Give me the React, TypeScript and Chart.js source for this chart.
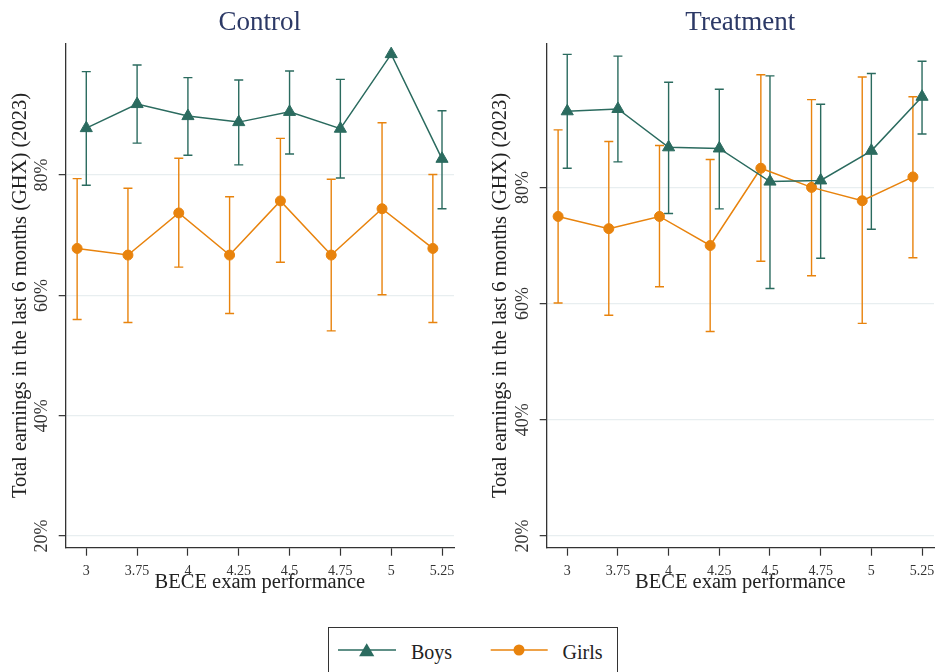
import React, { useEffect, useRef } from "react";
import { Chart, registerables } from "chart.js";

Chart.register(...registerables);

// ---------- data ----------
const categories = ["3", "3.75", "4", "4.25", "4.5", "4.75", "5", "5.25"];
const yTickValues = [20, 40, 60, 80];

const controlBoys = [87.8, 91.8, 89.8, 88.8, 90.5, 87.7, 100.1, 82.7];
const controlBoysLow = [78.3, 85.3, 83.3, 81.7, 83.5, 79.5, 100.1, 74.4];
const controlBoysHigh = [97.2, 98.3, 96.2, 95.8, 97.3, 95.9, 100.1, 90.7];
const controlGirls = [67.8, 66.7, 73.7, 66.7, 75.7, 66.7, 74.4, 67.8];
const controlGirlsLow = [56.0, 55.5, 64.7, 57.0, 65.5, 54.1, 60.1, 55.5];
const controlGirlsHigh = [79.4, 77.8, 82.8, 76.4, 86.1, 79.3, 88.7, 80.1];

const treatBoys = [93.1, 93.5, 86.9, 86.7, 81.0, 81.2, 86.3, 95.6];
const treatBoysLow = [83.3, 84.4, 75.5, 76.3, 62.6, 67.8, 72.8, 89.2];
const treatBoysHigh = [102.9, 102.6, 98.1, 96.9, 99.2, 94.3, 99.6, 101.7];
const treatGirls = [75.0, 72.9, 75.0, 70.0, 83.3, 80.0, 77.7, 81.8];
const treatGirlsLow = [60.1, 58.0, 62.9, 55.2, 67.3, 64.8, 56.6, 67.9];
const treatGirlsHigh = [89.9, 87.9, 87.2, 84.8, 99.4, 95.1, 99.0, 95.6];

// ---------- style ----------
const FONT = "'Liberation Serif', 'DejaVu Serif', serif";
const BOYS_COLOR = "#2b6b5f";
const GIRLS_COLOR = "#e8830d";
const TITLE_COLOR = "#2c3966";
const AXIS_COLOR = "#333333";
const GRID_COLOR = "#e8eef0";
const GIRLS_OFFSET = -0.18;
const Y_TITLE = "Total earnings in the last 6 months (GHX) (2023)";
const X_TITLE = "BECE exam performance";

const errorBarPlugin = {
  id: "errorBars",
  beforeDatasetsDraw(chart: any) {
    const { ctx } = chart;
    const x = chart.scales.x;
    const y = chart.scales.y;
    chart.data.datasets.forEach((ds: any) => {
      if (!ds.errLow) return;
      ctx.save();
      ctx.strokeStyle = ds.borderColor;
      ctx.lineWidth = 1.4;
      ds.data.forEach((p: any, i: number) => {
        const px = x.getPixelForValue(p.x);
        const lo = y.getPixelForValue(ds.errLow[i]);
        const hi = y.getPixelForValue(ds.errHigh[i]);
        if (Math.abs(lo - hi) < 0.5) return;
        ctx.beginPath();
        ctx.moveTo(px, lo);
        ctx.lineTo(px, hi);
        ctx.moveTo(px - 4.5, lo);
        ctx.lineTo(px + 4.5, lo);
        ctx.moveTo(px - 4.5, hi);
        ctx.lineTo(px + 4.5, hi);
        ctx.stroke();
      });
      ctx.restore();
    });
  },
};

const panelTextPlugin = {
  id: "panelText",
  afterDraw(chart: any, _args: any, opts: any) {
    const { ctx, chartArea } = chart;
    const y = chart.scales.y;
    ctx.save();
    // panel title
    ctx.font = `27px ${FONT}`;
    ctx.fillStyle = TITLE_COLOR;
    ctx.textAlign = "center";
    ctx.textBaseline = "middle";
    ctx.fillText(opts.title, (chartArea.left + chartArea.right) / 2, 22.5);
    // rotated y tick labels
    ctx.font = `18px ${FONT}`;
    ctx.fillStyle = AXIS_COLOR;
    y.ticks.forEach((t: any) => {
      const py = y.getPixelForValue(t.value);
      ctx.save();
      ctx.translate(chartArea.left - 23, py);
      ctx.rotate(-Math.PI / 2);
      ctx.fillText(`${t.value}%`, 0, 0);
      ctx.restore();
    });
    ctx.restore();
  },
};

type Panel = {
  title: string;
  boys: number[];
  boysLow: number[];
  boysHigh: number[];
  girls: number[];
  girlsLow: number[];
  girlsHigh: number[];
  yMin: number;
  yMax: number;
  yWidth: number;
  padRight: number;
};

function makeConfig(p: Panel): any {
  return {
    type: "line",
    data: {
      datasets: [
        {
          label: "Boys",
          data: p.boys.map((v, i) => ({ x: i, y: v })),
          errLow: p.boysLow,
          errHigh: p.boysHigh,
          borderColor: BOYS_COLOR,
          backgroundColor: BOYS_COLOR,
          borderWidth: 1.5,
          pointStyle: "triangle",
          pointRadius: 7,
          pointBorderWidth: 1,
          tension: 0,
        },
        {
          label: "Girls",
          data: p.girls.map((v, i) => ({ x: i + GIRLS_OFFSET, y: v })),
          errLow: p.girlsLow,
          errHigh: p.girlsHigh,
          borderColor: GIRLS_COLOR,
          backgroundColor: GIRLS_COLOR,
          borderWidth: 1.5,
          pointStyle: "circle",
          pointRadius: 5,
          pointBorderWidth: 1,
          tension: 0,
        },
      ],
    },
    options: {
      responsive: false,
      animation: false,
      layout: { padding: { top: 43.3, right: p.padRight, bottom: 0, left: 0 } },
      plugins: {
        legend: { display: false },
        tooltip: { enabled: false },
        panelText: { title: p.title },
      },
      scales: {
        x: {
          type: "linear",
          min: -0.405,
          max: 7.236,
          afterBuildTicks: (s: any) => {
            s.ticks = categories.map((_, i) => ({ value: i }));
          },
          afterFit: (s: any) => {
            s.height = 52.3;
          },
          ticks: {
            callback: (v: number) => categories[Math.round(v)] ?? "",
            font: { family: FONT, size: 14 },
            color: AXIS_COLOR,
            padding: 7,
            maxRotation: 0,
            autoSkip: false,
          },
          grid: {
            drawOnChartArea: false,
            drawTicks: true,
            tickLength: 8,
            tickColor: AXIS_COLOR,
            tickWidth: 1.2,
          },
          border: { display: true, color: AXIS_COLOR, width: 1.3 },
          title: {
            display: true,
            text: X_TITLE,
            font: { family: FONT, size: 20.5 },
            color: "#222",
            padding: { top: 0, bottom: 5.5 },
          },
        },
        y: {
          type: "linear",
          min: p.yMin,
          max: p.yMax,
          afterBuildTicks: (s: any) => {
            s.ticks = yTickValues.map((v) => ({ value: v }));
          },
          afterFit: (s: any) => {
            s.width = p.yWidth;
          },
          ticks: { display: false },
          grid: {
            color: GRID_COLOR,
            lineWidth: 1.3,
            drawTicks: true,
            tickLength: 7,
            tickColor: AXIS_COLOR,
            tickWidth: 1.2,
          },
          border: { display: true, color: AXIS_COLOR, width: 1.3 },
          title: {
            display: true,
            text: Y_TITLE,
            font: { family: FONT, size: 20.5 },
            color: "#222",
            padding: { top: 8.7, bottom: 0 },
          },
        },
      },
    },
    plugins: [errorBarPlugin, panelTextPlugin],
  };
}

const panels: Panel[] = [
  {
    title: "Control",
    boys: controlBoys,
    boysLow: controlBoysLow,
    boysHigh: controlBoysHigh,
    girls: controlGirls,
    girlsLow: controlGirlsLow,
    girlsHigh: controlGirlsHigh,
    yMin: 18.06,
    yMax: 101.9,
    yWidth: 65.7,
    padRight: 16,
  },
  {
    title: "Treatment",
    boys: treatBoys,
    boysLow: treatBoysLow,
    boysHigh: treatBoysHigh,
    girls: treatGirls,
    girlsLow: treatGirlsLow,
    girlsHigh: treatGirlsHigh,
    yMin: 17.99,
    yMax: 104.8,
    yWidth: 66.7,
    padRight: 7,
  },
];

function PanelChart({ panel, left, width }: { panel: Panel; left: number; width: number }) {
  const ref = useRef<HTMLCanvasElement>(null);
  useEffect(() => {
    if (!ref.current) return;
    const chart = new Chart(ref.current, makeConfig(panel));
    return () => chart.destroy();
  }, [panel]);
  return (
    <canvas
      ref={ref}
      width={width}
      height={600}
      style={{ position: "absolute", left, top: 0, width, height: 600 }}
    />
  );
}

function Legend() {
  return (
    <div
      style={{
        position: "absolute",
        left: 328,
        top: 627,
        width: 290,
        height: 60,
        boxSizing: "border-box",
        border: "1.5px solid #333",
        background: "#fff",
        fontFamily: FONT,
        fontSize: 20,
        color: "#222",
      }}
    >
      <svg width={290} height={50} style={{ position: "absolute", left: -1.5, top: -1.5 }}>
        <line x1={10} y1={23} x2={68} y2={23} stroke={BOYS_COLOR} strokeWidth={1.6} />
        <polygon points="38.7,16.3 46.3,29.3 31.1,29.3" fill={BOYS_COLOR} />
        <line x1={162.7} y1={23} x2={219.7} y2={23} stroke={GIRLS_COLOR} strokeWidth={1.6} />
        <circle cx={191} cy={23} r={5.5} fill={GIRLS_COLOR} />
      </svg>
      <span style={{ position: "absolute", left: 82, top: 12, lineHeight: "24px" }}>Boys</span>
      <span style={{ position: "absolute", left: 233.5, top: 12, lineHeight: "24px" }}>Girls</span>
    </div>
  );
}

export default function App() {
  useEffect(() => {
    document.body.style.margin = "0";
  }, []);
  return (
    <div style={{ position: "relative", width: 942, height: 672, overflow: "hidden", background: "#fff" }}>
      <PanelChart panel={panels[0]} left={0} width={470} />
      <PanelChart panel={panels[1]} left={480} width={462} />
      <Legend />
    </div>
  );
}
